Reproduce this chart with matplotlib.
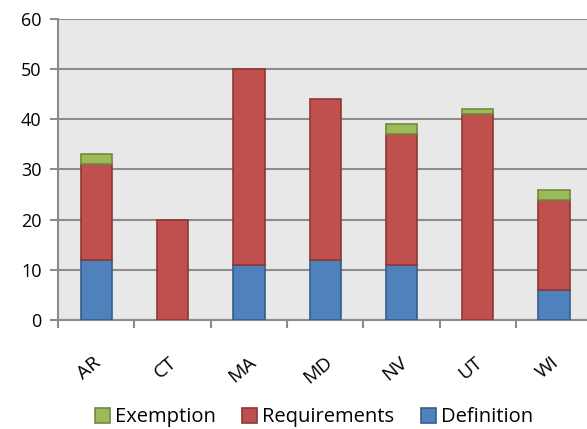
import matplotlib
matplotlib.use("Agg")
import matplotlib.pyplot as plt
import matplotlib.transforms as mtransforms
import numpy as np

states = ["AR", "CT", "MA", "MD", "NV", "UT", "WI"]
definition = [12, 0, 11, 12, 11, 0, 6]
requirements = [19, 20, 39, 32, 26, 41, 18]
exemption = [2, 0, 0, 0, 2, 1, 2]
yticks = [0, 10, 20, 30, 40, 50, 60]

plt.rcParams['font.family'] = ['Open Sans', 'DejaVu Sans']

fig = plt.figure(figsize=(5.87, 4.29), dpi=100)
ax = fig.add_axes([0.099, 0.254, 0.91, 0.702])
ax.set_facecolor("#E8E8E8")

x = np.arange(len(states))
w = 0.41
d = np.array(definition)
r = np.array(requirements)
e = np.array(exemption)

def stack(vals, bottom, **kw):
    m = vals > 0
    return ax.bar(x[m], vals[m], w, bottom=bottom[m], zorder=3, **kw)

stack(d, np.zeros_like(d), color="#4F81BD", edgecolor="#385D8A", linewidth=1.2, label="Definition")
stack(r, d, color="#C0504D", edgecolor="#8C3836", linewidth=1.2, label="Requirements")
stack(e, d + r, color="#9BBB59", edgecolor="#71893F", linewidth=1.2, label="Exemption")

ax.set_xlim(-0.5, len(states) - 0.5)
ax.set_ylim(0, 60)
ax.set_yticks(yticks)
ax.yaxis.grid(True, color="#8C8C8C", linewidth=1.5, zorder=1)
ax.set_axisbelow(True)
for s in ["top", "right"]:
    ax.spines[s].set_visible(False)
for s in ["left", "bottom"]:
    ax.spines[s].set_color("#8C8C8C")
    ax.spines[s].set_linewidth(1.5)

ax.set_xticks(np.arange(len(states) + 1) - 0.5, minor=False)
ax.set_xticklabels([])
ax.set_xticks(x, minor=True)
ax.set_xticklabels(states, minor=True, rotation=40, fontsize=14)
ax.tick_params(axis="x", which="major", length=6, width=1.5, color="#8C8C8C")
ax.tick_params(axis="x", which="minor", length=0, pad=24)
ax.tick_params(axis="y", length=6, width=1.5, color="#8C8C8C", labelsize=13, pad=6)
offset = mtransforms.ScaledTranslation(-7 / 100, 0, fig.dpi_scale_trans)
for lab in ax.get_xticklabels(minor=True):
    lab.set_transform(lab.get_transform() + offset)

h, l = ax.get_legend_handles_labels()
fig.legend(h[::-1], l[::-1], loc="lower center", bbox_to_anchor=(0.535, -0.038), ncol=3,
           frameon=False, fontsize=14.5, handlelength=0.75, handleheight=0.75,
           handletextpad=0.25, columnspacing=1.3)

fig.savefig("out.png", dpi=100)
